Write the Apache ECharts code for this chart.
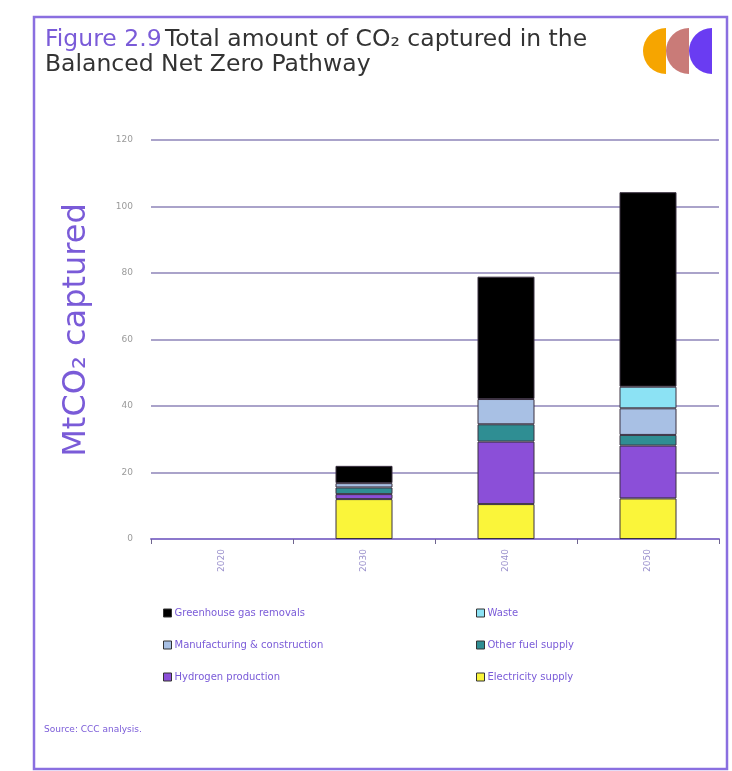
<!DOCTYPE html>
<html>
<head>
<meta charset="utf-8">
<script src="https://cdn.jsdelivr.net/npm/echarts@6/dist/echarts.min.js"></script>
<style>
html,body{margin:0;padding:0;background:#fff;}
#chart{width:732px;height:771px;}
</style>
</head>
<body>
<div id="chart"></div>
<script>
const categories = ['2020', '2030', '2040', '2050'];
const electricity = [0, 12.0, 10.5, 12.2];
const hydrogen = [0, 1.5, 18.8, 15.9];
const otherFuel = [0, 2.0, 5.2, 3.2];
const manufacturing = [0, 1.3, 7.6, 8.0];
const waste = [0, 0, 0, 6.5];
const ggr = [0, 5.2, 36.8, 58.5];
const yTicks = [0, 20, 40, 60, 80, 100, 120];

const seriesNames = ['Electricity supply', 'Hydrogen production', 'Other fuel supply', 'Manufacturing & construction', 'Waste', 'Greenhouse gas removals'];
const seriesData = [electricity, hydrogen, otherFuel, manufacturing, waste, ggr];
const seriesColors = ['#FAF53A', '#8B4FD8', '#2F8E93', '#A8C0E4', '#8CE2F4', '#000000'];

const chart = echarts.init(document.getElementById('chart'), null, {renderer: 'canvas'});
const fontFam = 'DejaVu Sans';
const purple = '#7A5BD8';

const option = {
  backgroundColor: '#ffffff',
  animation: false,
  grid: {left: 151, right: 13, top: 140, bottom: 232},
  xAxis: {
    type: 'category',
    data: categories,
    axisLine: {lineStyle: {color: '#8C78CC', width: 2}},
    axisTick: {show: true, length: 5, lineStyle: {color: '#6F6590'}},
    axisLabel: {rotate: 90, color: '#9A90CC', fontSize: 9, fontFamily: fontFam, margin: 10}
  },
  yAxis: {
    type: 'value',
    min: yTicks[0],
    max: yTicks[yTicks.length - 1],
    interval: 20,
    axisLine: {show: false},
    axisTick: {show: false},
    splitLine: {lineStyle: {color: '#8E84B8', width: 1.5}},
    axisLabel: {color: '#9A9A9A', fontSize: 9, fontFamily: fontFam, margin: 18}
  },
  legend: [
    {
      orient: 'vertical', left: 158, top: 603, itemWidth: 8, itemHeight: 8, itemGap: 22,
      icon: 'rect',
      data: ['Greenhouse gas removals', 'Manufacturing & construction', 'Hydrogen production'],
      textStyle: {color: purple, fontSize: 10, fontFamily: fontFam, padding: [0, 0, 0, -2]},
      itemStyle: {borderColor: '#333', borderWidth: 1}
    },
    {
      orient: 'vertical', left: 471, top: 603, itemWidth: 8, itemHeight: 8, itemGap: 22,
      icon: 'rect',
      data: ['Waste', 'Other fuel supply', 'Electricity supply'],
      textStyle: {color: purple, fontSize: 10, fontFamily: fontFam, padding: [0, 0, 0, -2]},
      itemStyle: {borderColor: '#333', borderWidth: 1}
    }
  ],
  series: seriesNames.map((name, i) => ({
    name: name,
    type: 'bar',
    stack: 'total',
    barWidth: 57,
    data: seriesData[i].map(v => (v === 0 ? '-' : v)),
    itemStyle: {color: seriesColors[i], borderColor: '#3A3040', borderWidth: 1}
  })),
  graphic: [
    {type: 'rect', shape: {x: 34, y: 17, width: 693, height: 752}, style: {fill: 'none', stroke: '#8A6FE0', lineWidth: 2.5}, z: 100},
    {type: 'text', left: 45, top: 28, style: {
      text: '{p|Figure 2.9} {d|Total amount of CO₂ captured in the}\n{d|Balanced Net Zero Pathway}',
      rich: {
        p: {fill: purple, fontSize: 23.5, fontFamily: fontFam, lineHeight: 25},
        d: {fill: '#333333', fontSize: 23.5, fontFamily: fontFam, lineHeight: 25}
      }
    }},
    {type: 'sector', shape: {cx: 666, cy: 51, r: 23, r0: 0, startAngle: Math.PI / 2, endAngle: Math.PI * 1.5}, style: {fill: '#F6A500'}},
    {type: 'sector', shape: {cx: 689, cy: 51, r: 23, r0: 0, startAngle: Math.PI / 2, endAngle: Math.PI * 1.5}, style: {fill: '#C97B78'}},
    {type: 'sector', shape: {cx: 712, cy: 51, r: 23, r0: 0, startAngle: Math.PI / 2, endAngle: Math.PI * 1.5}, style: {fill: '#6A3CF2'}},
    {type: 'text', x: 77, y: 330, rotation: Math.PI / 2, style: {
      text: 'MtCO₂ captured', fill: purple, fontSize: 32, fontFamily: fontFam, align: 'center', verticalAlign: 'middle'
    }},
    {type: 'text', left: 44, top: 725, style: {text: 'Source: CCC analysis.', fill: purple, fontSize: 9, fontFamily: fontFam}}
  ]
};
chart.setOption(option);
</script>
</body>
</html>
